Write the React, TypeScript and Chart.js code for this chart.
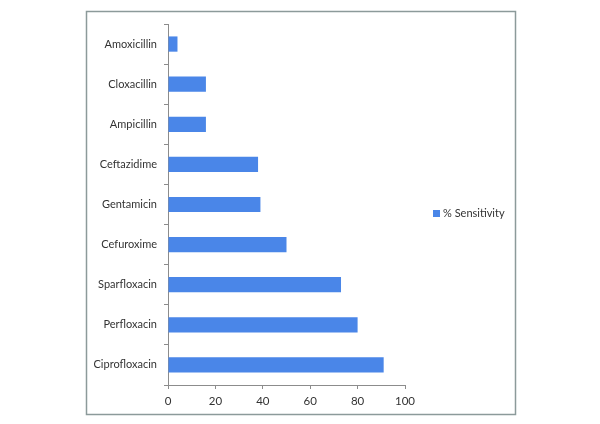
import React, { useEffect, useRef } from "react";
import { Chart, registerables } from "chart.js";

Chart.register(...registerables);

const categories = [
  "Amoxicillin",
  "Cloxacillin",
  "Ampicillin",
  "Ceftazidime",
  "Gentamicin",
  "Cefuroxime",
  "Sparfloxacin",
  "Perfloxacin",
  "Ciprofloxacin",
];
const sensitivity = [4, 16, 16, 38, 39, 50, 73, 80, 91];
const seriesLabel = "% Sensitivity";
const xTicks = [0, 20, 40, 60, 80, 100];

const BAR = "#4a86e8";
const FONT = "Lato, 'Open Sans', sans-serif";

const framePlugin = {
  id: "frame",
  beforeDraw(chart: any) {
    const ctx = chart.ctx;
    ctx.save();
    ctx.fillStyle = "#ffffff";
    ctx.fillRect(0, 0, chart.width, chart.height);
    ctx.strokeStyle = "#8c9a9a";
    ctx.lineWidth = 1.5;
    ctx.strokeRect(86.5, 11.5, 429, 403);
    ctx.restore();
  },
  afterDraw(chart: any) {
    const ctx = chart.ctx;
    const ds = chart.data.datasets[0];
    ctx.save();
    ctx.fillStyle = ds.backgroundColor;
    ctx.fillRect(433, 210, 7, 7);
    ctx.fillStyle = "#333333";
    ctx.font = `11px ${FONT}`;
    ctx.textBaseline = "middle";
    ctx.textAlign = "left";
    ctx.fillText(ds.label, 443, 213.5);
    ctx.restore();
  },
};

export default function App() {
  const ref = useRef<HTMLCanvasElement | null>(null);
  useEffect(() => {
    document.body.style.margin = "0";
    const chart = new Chart(ref.current as HTMLCanvasElement, {
      type: "bar",
      data: {
        labels: categories,
        datasets: [
          {
            label: seriesLabel,
            data: sensitivity,
            backgroundColor: BAR,
            borderWidth: 0,
            categoryPercentage: 0.38,
            barPercentage: 1,
          },
        ],
      },
      options: {
        indexAxis: "y",
        animation: false,
        responsive: false,
        maintainAspectRatio: false,
        layout: { padding: { left: 0, right: 195, top: 24, bottom: 0 } },
        plugins: { legend: { display: false }, tooltip: { enabled: false } },
        scales: {
          x: {
            min: 0,
            max: 100,
            afterBuildTicks(scale: any) {
              scale.ticks = xTicks.map((v) => ({ value: v }));
            },
            afterFit(scale: any) {
              scale.height = 39;
            },
            grid: {
              drawOnChartArea: false,
              drawTicks: true,
              tickLength: 4,
              color: "#8c8c8c",
            },
            border: { display: true, color: "#8c8c8c" },
            ticks: {
              color: "#333333",
              font: { family: FONT, size: 11.5 },
              padding: 5,
              maxRotation: 0,
            },
          },
          y: {
            offset: true,
            afterFit(scale: any) {
              scale.width = 168;
            },
            grid: {
              offset: true,
              drawOnChartArea: false,
              drawTicks: true,
              tickLength: 4,
              color: "#8c8c8c",
            },
            border: { display: true, color: "#8c8c8c" },
            ticks: {
              color: "#333333",
              font: { family: FONT, size: 11 },
              padding: 7,
            },
          },
        },
      },
      plugins: [framePlugin],
    } as any);
    return () => chart.destroy();
  }, []);
  return (
    <div style={{ position: "absolute", left: 0, top: 0, width: 600, height: 424 }}>
      <canvas ref={ref} width={600} height={424} style={{ width: 600, height: 424 }} />
    </div>
  );
}
